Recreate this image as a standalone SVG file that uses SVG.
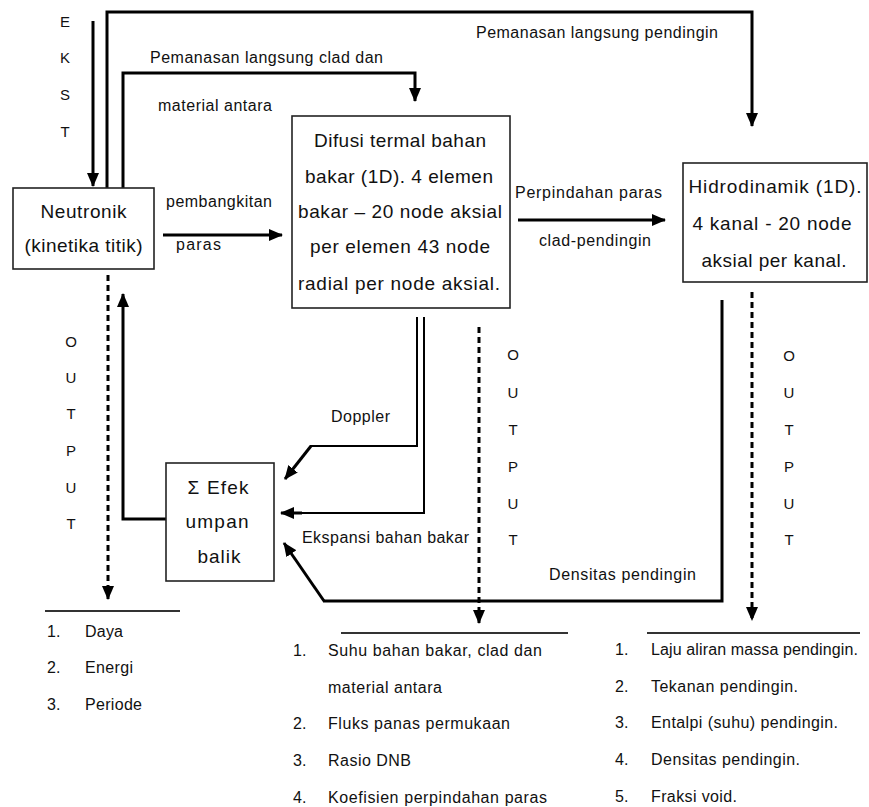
<svg xmlns="http://www.w3.org/2000/svg" width="869" height="807" viewBox="0 0 869 807">
<style>
text{font-family:"Liberation Sans",Arial,sans-serif;fill:#111}
.bx{font-size:19px;text-anchor:middle}
.lb{font-size:16px}
.lt{font-size:15px;text-anchor:middle}
.ls{font-size:16px}
.box{fill:#fff;stroke:#222;stroke-width:1.6}
.c{fill:none;stroke:#000;stroke-width:3}
.t{fill:none;stroke:#000;stroke-width:2}
.d{fill:none;stroke:#000;stroke-width:3;stroke-dasharray:6 4}
.hl{stroke:#333;stroke-width:2}
</style>
<defs>
<marker id="ah" markerUnits="userSpaceOnUse" markerWidth="14" markerHeight="12" refX="13" refY="6" orient="auto"><path d="M0,0 L14,6 L0,12 z" fill="#000"/></marker>
</defs>
<g id="connectors">
<path class="c" d="M93,21 V186" marker-end="url(#ah)"/>
<path class="c" d="M107,188 V12 H752 V126" marker-end="url(#ah)"/>
<path class="c" d="M123,190 V73 H415 V101" marker-end="url(#ah)"/>
<path class="c" d="M163,235 H282" marker-end="url(#ah)"/>
<path class="c" d="M518,220 H665" marker-end="url(#ah)"/>
<path class="d" d="M108,275 V599" marker-end="url(#ah)"/>
<path class="c" d="M166,519 H123 V294" marker-end="url(#ah)"/>
<path class="t" d="M417,317 V446 H310"/>
<path class="c" d="M311,446 L285,479" marker-end="url(#ah)"/>
<path class="t" d="M424,317 V513 H300"/>
<path class="c" d="M302,513 H281" marker-end="url(#ah)"/>
<path class="c" d="M722,300 V601 H323"/>
<path class="c" d="M324,601 L284,543" marker-end="url(#ah)"/>
<path class="d" d="M479,327 V623" marker-end="url(#ah)"/>
<path class="d" d="M752,292 V620" marker-end="url(#ah)"/>
<line class="hl" x1="45" y1="611" x2="180" y2="611"/>
<line class="hl" x1="341" y1="633" x2="568" y2="633"/>
<line class="hl" x1="647" y1="633" x2="860" y2="633"/>
</g>
<g id="labels">
<text class="lt" x="65" y="27">E</text>
<text class="lt" x="65" y="63">K</text>
<text class="lt" x="65" y="100">S</text>
<text class="lt" x="65" y="137">T</text>
<text class="lb" x="476" y="38" textLength="242">Pemanasan langsung pendingin</text>
<text class="lb" x="150" y="63" textLength="233">Pemanasan langsung clad dan</text>
<text class="lb" x="158" y="111" textLength="114">material antara</text>
<text class="lb" x="166" y="207" textLength="106">pembangkitan</text>
<text class="lb" x="176" y="250" textLength="45">paras</text>
<text class="lb" x="515" y="198" textLength="147">Perpindahan paras</text>
<text class="lb" x="539" y="246" textLength="112">clad-pendingin</text>
<text class="lb" x="331" y="422" textLength="59">Doppler</text>
<text class="lb" x="302" y="543" textLength="167">Ekspansi bahan bakar</text>
<text class="lb" x="549" y="580" textLength="147">Densitas pendingin</text>
<text class="lt" x="71" y="347">O</text>
<text class="lt" x="71" y="383">U</text>
<text class="lt" x="71" y="419">T</text>
<text class="lt" x="71" y="456">P</text>
<text class="lt" x="71" y="493">U</text>
<text class="lt" x="71" y="529">T</text>
<text class="lt" x="513" y="360">O</text>
<text class="lt" x="513" y="398">U</text>
<text class="lt" x="513" y="435">T</text>
<text class="lt" x="513" y="472">P</text>
<text class="lt" x="513" y="509">U</text>
<text class="lt" x="513" y="545">T</text>
<text class="lt" x="789" y="361">O</text>
<text class="lt" x="789" y="398">U</text>
<text class="lt" x="789" y="435">T</text>
<text class="lt" x="789" y="472">P</text>
<text class="lt" x="789" y="509">U</text>
<text class="lt" x="789" y="545">T</text>
</g>
<g id="neutronik">
<rect class="box" x="13" y="188" width="141" height="81"/>
<text class="bx" x="83.5" y="218" textLength="86">Neutronik</text>
<text class="bx" x="83.5" y="252" textLength="118">(kinetika titik)</text>
</g>
<g id="difusi">
<rect class="box" x="292" y="116" width="218" height="192"/>
<text class="bx" x="400" y="147" textLength="172">Difusi termal bahan</text>
<text class="bx" x="399" y="183" textLength="188">bakar (1D). 4 elemen</text>
<text class="bx" x="400" y="218" textLength="204">bakar – 20 node aksial</text>
<text class="bx" x="400" y="253" textLength="180">per elemen 43 node</text>
<text class="bx" x="399" y="290" textLength="202">radial per node aksial.</text>
</g>
<g id="hidrodinamik">
<rect class="box" x="683" y="163" width="184" height="119"/>
<text class="bx" x="775" y="193" textLength="173">Hidrodinamik (1D).</text>
<text class="bx" x="772" y="230" textLength="159">4 kanal - 20 node</text>
<text class="bx" x="774" y="267" textLength="145">aksial per kanal.</text>
</g>
<g id="efek">
<rect class="box" x="166" y="463" width="108" height="118"/>
<text class="bx" x="218" y="494" textLength="61">Σ Efek</text>
<text class="bx" x="217" y="528" textLength="63">umpan</text>
<text class="bx" x="219" y="563" textLength="43">balik</text>
</g>
<g id="output-neutronik">
<text class="ls" x="47" y="637">1.</text><text class="ls" x="85" y="637" textLength="38">Daya</text>
<text class="ls" x="47" y="673">2.</text><text class="ls" x="85" y="673" textLength="48">Energi</text>
<text class="ls" x="47" y="710">3.</text><text class="ls" x="85" y="710" textLength="57">Periode</text>
</g>
<g id="output-difusi">
<text class="ls" x="293" y="656">1.</text><text class="ls" x="328" y="656" textLength="214">Suhu bahan bakar, clad dan</text>
<text class="ls" x="328" y="693" textLength="114">material antara</text>
<text class="ls" x="293" y="729">2.</text><text class="ls" x="328" y="729" textLength="182">Fluks panas permukaan</text>
<text class="ls" x="293" y="766">3.</text><text class="ls" x="328" y="766" textLength="83">Rasio DNB</text>
<text class="ls" x="293" y="803">4.</text><text class="ls" x="328" y="803" textLength="219">Koefisien perpindahan paras</text>
</g>
<g id="output-hidro">
<text class="ls" x="615" y="655">1.</text><text class="ls" x="651" y="655" textLength="207">Laju aliran massa pendingin.</text>
<text class="ls" x="615" y="692">2.</text><text class="ls" x="651" y="692" textLength="147">Tekanan pendingin.</text>
<text class="ls" x="615" y="728">3.</text><text class="ls" x="651" y="728" textLength="187">Entalpi (suhu) pendingin.</text>
<text class="ls" x="615" y="765">4.</text><text class="ls" x="651" y="765" textLength="149">Densitas pendingin.</text>
<text class="ls" x="615" y="802">5.</text><text class="ls" x="651" y="802" textLength="86">Fraksi void.</text>
</g>
</svg>
